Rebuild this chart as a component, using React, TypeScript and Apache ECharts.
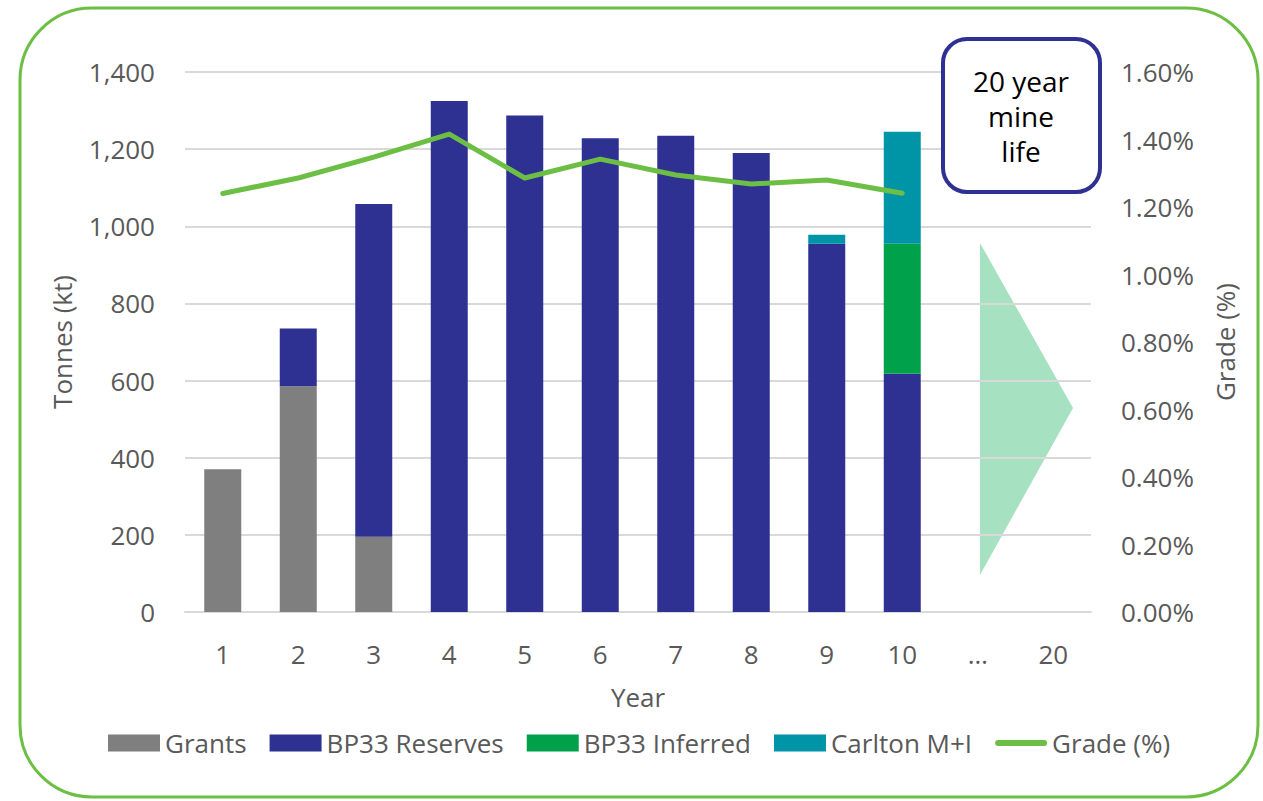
import React, { useEffect, useRef } from "react";
import * as echarts from "echarts";

const years = ["1", "2", "3", "4", "5", "6", "7", "8", "9", "10", "…", "20"];
const grants = [370, 585, 195, null, null, null, null, null, null, null, null, null];
const bp33Reserves = [null, 150, 863, 1325, 1287, 1228, 1235, 1190, 955, 618, null, null];
const bp33Inferred = [null, null, null, null, null, null, null, null, null, 337, null, null];
const carltonMI = [null, null, null, null, null, null, null, null, 23, 290, null, null];
const grade = [1.24, 1.286, 1.348, 1.416, 1.286, 1.342, 1.295, 1.268, 1.28, 1.241, null, null];
const leftTicks = { min: 0, max: 1400, interval: 200 };
const rightTicks = { min: 0, max: 1.6, interval: 0.2 };

const FONT = "'Open Sans', 'Noto Sans', sans-serif";
const TXT = "#595959";
const FS = 26;
const LINE_ICON = "path://M3,0 L49,0 A3,3 0 0 1 49,6 L3,6 A3,3 0 0 1 3,0 Z";

export default function App() {
  const ref = useRef<HTMLDivElement>(null);
  useEffect(() => {
    if (!ref.current) return;
    const chart = echarts.init(ref.current, null, { renderer: "svg" });
    const barCommon = { type: "bar", stack: "t", barWidth: "49%" };
    chart.setOption({
      animation: false,
      textStyle: { fontFamily: FONT },
      grid: { left: 185, right: 172, top: 72, bottom: 189 },
      legend: {
        bottom: 40,
        left: 103,
        itemWidth: 52,
        itemHeight: 17,
        itemGap: 23,
        textStyle: { fontSize: FS, color: TXT, fontFamily: FONT },
        data: [
          { name: "Grants", icon: "rect" },
          { name: "BP33 Reserves", icon: "rect" },
          { name: "BP33 Inferred", icon: "rect" },
          { name: "Carlton M+I", icon: "rect" },
          { name: "Grade (%)", icon: LINE_ICON },
        ],
      },
      xAxis: {
        type: "category",
        data: years,
        name: "Year",
        nameLocation: "middle",
        nameGap: 72,
        nameTextStyle: { fontSize: FS, color: TXT, fontFamily: FONT },
        axisLine: { lineStyle: { color: "#d9d9d9", width: 2 } },
        axisTick: { show: false },
        axisLabel: { fontSize: FS, color: TXT, margin: 29, fontFamily: FONT },
      },
      yAxis: [
        {
          type: "value",
          ...leftTicks,
          name: "Tonnes (kt)",
          nameLocation: "middle",
          nameGap: 110,
          nameTextStyle: { fontSize: FS, color: TXT, fontFamily: FONT },
          axisLabel: {
            fontSize: FS,
            color: TXT,
            margin: 30,
            fontFamily: FONT,
            formatter: (v: number) => v.toLocaleString("en-US"),
          },
          splitLine: { lineStyle: { color: "#d9d9d9", width: 2 } },
          axisLine: { show: false },
        },
        {
          type: "value",
          ...rightTicks,
          name: "Grade (%)",
          nameLocation: "middle",
          nameGap: 121,
          nameTextStyle: { fontSize: FS, color: TXT, fontFamily: FONT },
          axisLabel: {
            fontSize: FS,
            color: TXT,
            margin: 30,
            fontFamily: FONT,
            formatter: (v: number) => v.toFixed(2) + "%",
          },
          splitLine: { show: false },
          axisLine: { show: false },
        },
      ],
      series: [
        { ...barCommon, name: "Grants", data: grants, itemStyle: { color: "#7f7f7f" } },
        { ...barCommon, name: "BP33 Reserves", data: bp33Reserves, itemStyle: { color: "#2e3192" } },
        { ...barCommon, name: "BP33 Inferred", data: bp33Inferred, itemStyle: { color: "#00a14b" } },
        { ...barCommon, name: "Carlton M+I", data: carltonMI, itemStyle: { color: "#0095a6" } },
        {
          type: "line",
          name: "Grade (%)",
          yAxisIndex: 1,
          data: grade,
          symbol: "none",
          lineStyle: { color: "#6cbf44", width: 5, cap: "round", join: "round" },
          itemStyle: { color: "#6cbf44" },
          z: 5,
        },
      ],
      graphic: [
        {
          type: "rect",
          shape: { x: 20, y: 8, width: 1238, height: 789, r: 72 },
          style: { fill: "none", stroke: "#6cbf44", lineWidth: 3 },
          silent: true,
        },
        {
          type: "polygon",
          shape: { points: [[980, 243], [1073, 408], [980, 575]] },
          style: { fill: "#a6e2c2" },
          silent: true,
        },
        {
          type: "rect",
          shape: { x: 943, y: 39, width: 157, height: 153, r: 24 },
          style: { fill: "#ffffff", stroke: "#2e3192", lineWidth: 4 },
          z: 10,
        },
        {
          type: "text",
          x: 1021,
          y: 116,
          z: 11,
          style: {
            text: "20 year\nmine\nlife",
            fontSize: 28,
            lineHeight: 35,
            fontFamily: FONT,
            fill: "#000000",
            align: "center",
            verticalAlign: "middle",
          },
        },
      ],
    });
    return () => chart.dispose();
  }, []);
  return (
    <div
      ref={ref}
      style={{ position: "fixed", left: 0, top: 0, width: 1263, height: 801, background: "#fff" }}
    />
  );
}
